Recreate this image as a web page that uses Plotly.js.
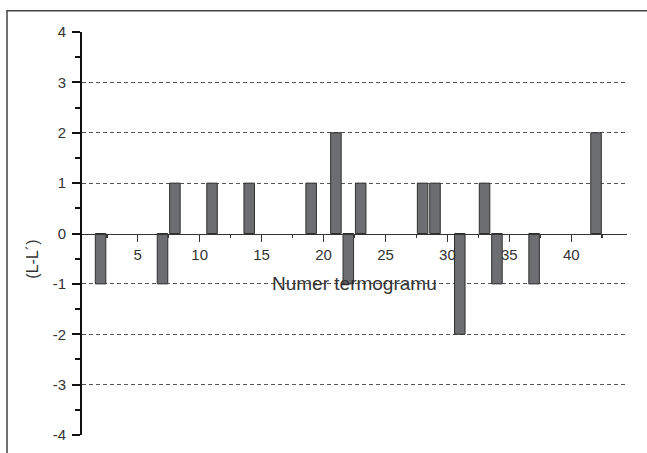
<!DOCTYPE html>
<html>
<head>
<meta charset="utf-8">
<script src="https://cdn.plot.ly/plotly-3.0.1.min.js"></script>
<style>html,body{margin:0;padding:0;background:#fff;}#chart{width:647px;height:453px;}</style>
</head>
<body>
<div id="chart"></div>
<script>
// Termogram numbers and (L-L') differences (only non-zero values are drawn)
var termogramNumbers = [2, 7, 8, 11, 14, 19, 21, 22, 23, 28, 29, 31, 33, 34, 37, 42];
var diffValues       = [-1, -1, 1, 1, 1, 1, 2, -1, 1, 1, 1, -2, 1, -1, -1, 2];

var xTickVals = [5, 10, 15, 20, 25, 30, 35, 40];
var xTickText = ['5', '10', '15', '20', '25', '30', '35', '40'];
var yTickVals = [-4, -3, -2, -1, 0, 1, 2, 3, 4];
var yTickText = ['-4', '-3', '-2', '-1', '0', '1', '2', '3', '4'];
var yGridVals = [-3, -2, -1, 1, 2, 3];

var xTitle = 'Numer termogramu';
var yTitle = '(L-L\u00B4)';

var FONT = 'Arial, "Liberation Sans", sans-serif';

var trace = {
  type: 'bar',
  x: termogramNumbers,
  y: diffValues,
  width: 0.85,
  marker: { color: '#6d6e71', line: { color: '#2f2f2f', width: 1 } },
  hoverinfo: 'x+y'
};

// invisible trace to activate the grid axis
var gridTrace = {
  type: 'scatter', mode: 'lines', x: [], y: [], yaxis: 'y2', showlegend: false, hoverinfo: 'skip'
};

var layout = {
  width: 647, height: 453,
  margin: { l: 82, r: 20, t: 32, b: 18 },
  paper_bgcolor: '#ffffff',
  plot_bgcolor: 'rgba(0,0,0,0)',
  showlegend: false,
  font: { family: FONT, size: 15, color: '#333333' },
  xaxis: {
    range: [0.5, 44.5],
    anchor: 'free', position: 0.5,
    tickvals: xTickVals, ticktext: xTickText,
    ticks: 'outside', ticklen: 7, tickwidth: 1.5, tickcolor: '#333333',
    minor: { tick0: 0, dtick: 2.5, ticks: 'outside', ticklen: 3, tickwidth: 1.5, tickcolor: '#333333', showgrid: false },
    showline: true, linecolor: '#333333', linewidth: 1.5,
    showgrid: false, zeroline: false,
    tickfont: { family: FONT, size: 15, color: '#333333' }
  },
  yaxis: {
    range: [-4, 4],
    tickvals: yTickVals, ticktext: yTickText,
    ticks: 'outside', ticklen: 8, tickwidth: 2, tickcolor: '#111111',
    minor: { tick0: 0, dtick: 0.5, ticks: 'outside', ticklen: 5, tickwidth: 2, tickcolor: '#111111', showgrid: false },
    showline: true, linecolor: '#111111', linewidth: 2,
    showgrid: false, zeroline: false,
    ticklabelstandoff: 3,
    tickfont: { family: FONT, size: 15, color: '#333333' }
  },
  yaxis2: {
    overlaying: 'y', range: [-4, 4],
    tickvals: yGridVals, showticklabels: false, ticks: '',
    showgrid: true, gridcolor: '#555555', gridwidth: 1, griddash: '4px,3px',
    showline: false, zeroline: false
  },
  annotations: [
    {
      text: xTitle, xref: 'paper', yref: 'y', x: 0.5, y: -1.0,
      xanchor: 'center', yanchor: 'middle', showarrow: false,
      font: { family: FONT, size: 19, color: '#333333' }
    },
    {
      text: yTitle, xref: 'paper', yref: 'y', x: -0.09, y: -0.5,
      xanchor: 'center', yanchor: 'middle', showarrow: false, textangle: -90,
      font: { family: FONT, size: 16, color: '#333333' }
    }
  ],
  shapes: [
    {
      type: 'rect', xref: 'paper', yref: 'paper',
      x0: -0.1376, x1: 1.1, y0: -0.2, y1: 1.053,
      line: { color: '#444444', width: 1.5 }, layer: 'below'
    }
  ]
};

Plotly.newPlot('chart', [trace, gridTrace], layout, { displayModeBar: false, staticPlot: true });
</script>
</body>
</html>
